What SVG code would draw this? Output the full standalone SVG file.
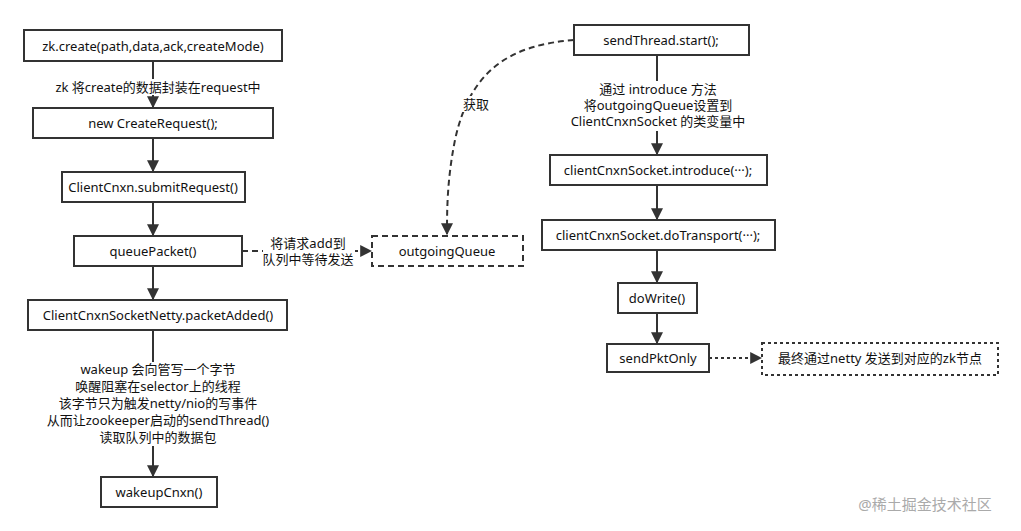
<svg xmlns="http://www.w3.org/2000/svg" width="1021" height="531" viewBox="0 0 1021 531">
<style>
.b{fill:#fff;stroke:#333;stroke-width:2}
.d{fill:#fff;stroke:#333;stroke-width:2;stroke-dasharray:6 4}
.o{fill:#fff;stroke:#333;stroke-width:2;stroke-dasharray:3 3}
text{font-family:"Noto Sans","Noto Sans CJK SC",sans-serif;font-size:13px;fill:#111;text-anchor:middle}
.l{stroke:#333;stroke-width:2;fill:none}
.lbl{fill:#fff}
</style>
<defs><marker id="a" viewBox="0 0 10 10" refX="9" refY="5" markerWidth="6" markerHeight="6" orient="auto"><path d="M0,0L10,5L0,10z" fill="#333"/></marker></defs>
<rect width="1021" height="531" fill="#fff"/>
<g id="connectors">
<path class="l" d="M153,61V107" marker-end="url(#a)"/>
<path class="l" d="M153,138V171" marker-end="url(#a)"/>
<path class="l" d="M153,202V235" marker-end="url(#a)"/>
<path class="l" d="M153,266V299" marker-end="url(#a)"/>
<path class="l" d="M153,330V476" marker-end="url(#a)"/>
<path class="l" d="M242,251H371" stroke-dasharray="6 4" marker-end="url(#a)"/>
<path class="l" d="M574,40C510,45 470,70 455,140C447,180 447,210 447,234" stroke-dasharray="6 4" marker-end="url(#a)"/>
<path class="l" d="M657,55V154" marker-end="url(#a)"/>
<path class="l" d="M657,185V219" marker-end="url(#a)"/>
<path class="l" d="M657,250V282" marker-end="url(#a)"/>
<path class="l" d="M657,313V343" marker-end="url(#a)"/>
<path class="l" d="M709,358H761" stroke-dasharray="3 3" marker-end="url(#a)"/>
<rect class="lbl" x="55" y="79" width="206" height="16"/>
<text x="158" y="92">zk 将create的数据封装在request中</text>
<rect class="lbl" x="263" y="236" width="92" height="32"/>
<text x="308" y="248">将请求add到</text>
<text x="308" y="264">队列中等待发送</text>
<rect class="lbl" x="461" y="96" width="30" height="16"/>
<text x="476" y="109">获取</text>
<rect class="lbl" x="85" y="362" width="185" height="84"/>
<text x="158" y="374">wakeup 会向管写一个字节</text>
<text x="158" y="391">唤醒阻塞在selector上的线程</text>
<text x="158" y="408">该字节只为触发netty/nio的写事件</text>
<text x="158" y="425">从而让zookeeper启动的sendThread()</text>
<text x="158" y="442">读取队列中的数据包</text>
<rect class="lbl" x="568" y="81" width="180" height="50"/>
<text x="658" y="94">通过 introduce 方法</text>
<text x="658" y="110">将outgoingQueue设置到</text>
<text x="658" y="126">ClientCnxnSocket 的类变量中</text>
</g>
<g id="n1"><rect class="b" x="24" y="30" width="258" height="31"/><text x="153" y="51">zk.create(path,data,ack,createMode)</text></g>
<g id="n2"><rect class="b" x="33" y="108" width="240" height="30"/><text x="153" y="128">new CreateRequest();</text></g>
<g id="n3"><rect class="b" x="62" y="172" width="183" height="30"/><text x="153" y="192">ClientCnxn.submitRequest()</text></g>
<g id="n4"><rect class="b" x="74" y="236" width="168" height="30"/><text x="153" y="256">queuePacket()</text></g>
<g id="n5"><rect class="b" x="28" y="300" width="259" height="30"/><text x="158" y="320">ClientCnxnSocketNetty.packetAdded()</text></g>
<g id="n6"><rect class="b" x="101" y="477" width="116" height="30"/><text x="159" y="497">wakeupCnxn()</text></g>
<g id="n7"><rect class="d" x="372" y="236" width="151" height="30"/><text x="447" y="256">outgoingQueue</text></g>
<g id="n8"><rect class="b" x="574" y="25" width="175" height="30"/><text x="661" y="45">sendThread.start();</text></g>
<g id="n9"><rect class="b" x="550" y="155" width="217" height="30"/><text x="658" y="175">clientCnxnSocket.introduce(···);</text></g>
<g id="n10"><rect class="b" x="542" y="220" width="233" height="30"/><text x="658" y="240">clientCnxnSocket.doTransport(···);</text></g>
<g id="n11"><rect class="b" x="618" y="283" width="79" height="30"/><text x="657" y="303">doWrite()</text></g>
<g id="n12"><rect class="b" x="607" y="344" width="102" height="28"/><text x="658" y="363">sendPktOnly</text></g>
<g id="n13"><rect class="o" x="762" y="343" width="236" height="32"/><text x="880" y="363">最终通过netty 发送到对应的zk节点</text></g>
<text x="925" y="510" style="font-size:15px;fill:#aaa">@稀土掘金技术社区</text>
</svg>
